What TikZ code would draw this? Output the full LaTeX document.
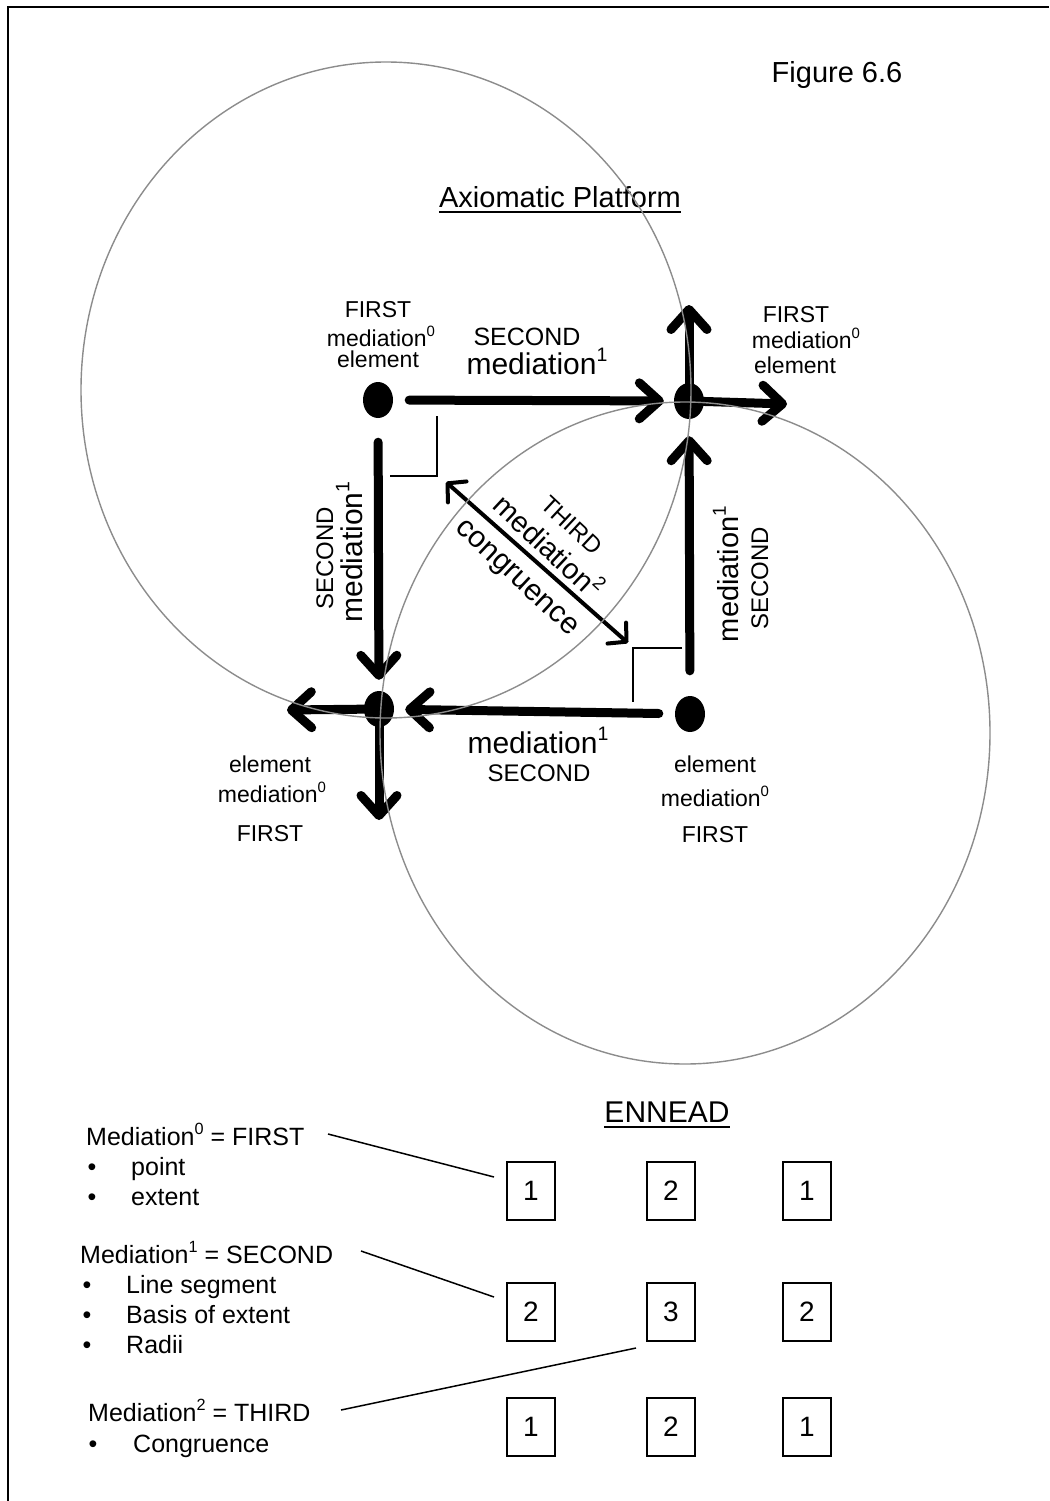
\documentclass[tikz,border=0pt]{standalone}
\usepackage{graphicx}
\usepackage{fontspec}
\setmainfont{Liberation Sans}
\usetikzlibrary{arrows.meta,shapes.geometric}

% small raised index, as in mediation^0
\newcommand\medidx[1]{\raisebox{0.42em}{\scalebox{0.65}{#1}}}

\tikzset{
  frame/.style={line width=2pt},
  orbit/.style={draw=black!45, line width=1.4pt},
  dot/.style={ellipse, fill=black, minimum width=30pt, minimum height=36pt, inner sep=0pt},
  heavy/.style={line width=9pt, line cap=round,
    -{Straight Barb[length=20pt,width=36pt,line cap=round,line join=round]}},
  twoway/.style={line width=4pt, line cap=round,
    {Straight Barb[length=13pt,width=28pt,line cap=round,line join=round]}-{Straight Barb[length=13pt,width=28pt,line cap=round,line join=round]}},
  angle mark/.style={line width=1.3pt},
  leader/.style={line width=1.5pt},
  txt/.style={inner sep=0pt, anchor=base, font=\fontsize{#1}{#1}\selectfont},
  txt/.default=23,
  slant/.style={inner sep=0pt, anchor=base, rotate=-43, font=\fontsize{#1}{#1}\selectfont},
  lefttxt/.style={inner sep=0pt, anchor=base west, font=\fontsize{25}{25}\selectfont},
  bullet/.style={inner sep=0pt, anchor=base, font=\fontsize{25}{25}\selectfont},
  cell/.style={draw, line width=1.5pt, minimum width=48pt, minimum height=58pt,
    inner sep=0pt, font=\fontsize{28}{28}\selectfont}
}

\begin{document}
\begin{tikzpicture}[x=1pt,y=1pt]
\useasboundingbox (0,0) rectangle (1049,-1501);

% page frame
\draw[frame] (8,-1501) -- (8,-7) -- (1049,-7);

% titles
\node[txt=29] (fig) at (837,-83) {Figure 6.6};
\node[txt=29] (axp) at (560,-207) {Axiomatic Platform};
\draw[line width=1.6pt] ([yshift=-5pt]axp.base west) -- ([yshift=-5pt]axp.base east);

% the four elements
\node[dot] (tl) at (378,-400) {};
\node[dot] (tr) at (689,-401) {};
\node[dot] (bl) at (379,-709) {};
\node[dot] (br) at (690,-714) {};

% mediations between the elements
\draw[heavy, shorten <=16pt, shorten >=10pt] (tl) -- (tr);
\draw[heavy, shorten <=24pt, shorten >=11pt] (tl) -- (bl);
\draw[heavy, shorten <=25pt, shorten >=17pt] (br) -- (tr);
\draw[heavy, shorten <=16pt, shorten >=11pt] (br) -- (bl);

% outward arrows
\coordinate (trN) at (689,-305);
\coordinate (trE) at (787,-404);
\coordinate (blW) at (287,-710);
\coordinate (blS) at (379,-820);
\draw[heavy] (tr.center) -- (trN);
\draw[heavy] (tr.center) -- (trE);
\draw[heavy] (bl.center) -- (blW);
\draw[heavy] (bl.center) -- (blS);

% congruence diagonal
\coordinate (dgA) at (446,-482);
\coordinate (dgB) at (628,-643);
\draw[twoway] (dgA) -- (dgB);

% right-angle marks
\draw[angle mark] (437,-416) -- (437,-476) -- (390,-476);
\draw[angle mark] (682,-648) -- (633,-648) -- (633,-702);

% labels: upper left element
\node[txt] (tlA) at (378,-317) {FIRST};
\node[txt] (tlB) at (381,-346) {mediation\medidx{0}};
\node[txt] (tlC) at (378,-367) {element};

% labels: upper right element
\node[txt] (trA) at (796,-322) {FIRST};
\node[txt] (trB) at (806,-348) {mediation\medidx{0}};
\node[txt] (trC) at (795,-373) {element};

% labels: top mediation
\node[txt=25] (tmA) at (527,-345) {SECOND};
\node[txt=30] (tmB) at (537,-374) {mediation\medidx{1}};

% labels: left mediation
\node[txt=24, rotate=90] (lmA) at (333,-558) {SECOND};
\node[txt=30, rotate=90] (lmB) at (362,-552) {mediation\medidx{1}};

% labels: right mediation
\node[txt=29, rotate=90] (rmA) at (738,-574) {mediation\medidx{1}};
\node[txt=24, rotate=90] (rmB) at (768,-578) {SECOND};

% labels: bottom mediation
\node[txt=30] (bmA) at (538,-753) {mediation\medidx{1}};
\node[txt=24] (bmB) at (539,-781) {SECOND};

% labels: lower left element
\node[txt] (blA) at (270,-772) {element};
\node[txt] (blB) at (272,-802) {mediation\medidx{0}};
\node[txt] (blC) at (270,-841) {FIRST};

% labels: lower right element
\node[txt] (brA) at (715,-772) {element};
\node[txt] (brB) at (715,-806) {mediation\medidx{0}};
\node[txt] (brC) at (715,-842) {FIRST};

% labels: diagonal
\node[slant=24] (dgT) at (566,-531) {THIRD};
\node[slant=29] (dgM) at (541,-554) {mediation\medidx{2}};
\node[slant=30] (dgC) at (512,-583) {congruence};

% ennead
\node[txt=30] (enn) at (667,-1122) {ENNEAD};
\draw[line width=1.6pt] ([yshift=-5pt]enn.base west) -- ([yshift=-5pt]enn.base east);

\node[cell] (c11) at (531,-1191) {1};
\node[cell] (c12) at (671,-1191) {2};
\node[cell] (c13) at (807,-1191) {1};
\node[cell] (c21) at (531,-1312) {2};
\node[cell] (c22) at (671,-1312) {3};
\node[cell] (c23) at (807,-1312) {2};
\node[cell] (c31) at (531,-1427) {1};
\node[cell] (c32) at (671,-1427) {2};
\node[cell] (c33) at (807,-1427) {1};

% legend
\node[lefttxt] (m0) at (86,-1145) {Mediation\medidx{0} = FIRST};
\node[bullet] (m0b1) at (92,-1175) {•};
\node[lefttxt] (m0i1) at (131,-1175) {point};
\node[bullet] (m0b2) at (92,-1205) {•};
\node[lefttxt] (m0i2) at (131,-1205) {extent};

\node[lefttxt] (m1) at (80,-1263) {Mediation\medidx{1} = SECOND};
\node[bullet] (m1b1) at (87,-1293) {•};
\node[lefttxt] (m1i1) at (126,-1293) {Line segment};
\node[bullet] (m1b2) at (87,-1323) {•};
\node[lefttxt] (m1i2) at (126,-1323) {Basis of extent};
\node[bullet] (m1b3) at (87,-1353) {•};
\node[lefttxt] (m1i3) at (126,-1353) {Radii};

\node[lefttxt] (m2) at (88,-1421) {Mediation\medidx{2} = THIRD};
\node[bullet] (m2b1) at (93,-1452) {•};
\node[lefttxt] (m2i1) at (133,-1452) {Congruence};

% leaders from the legend to the ennead
\coordinate (l0a) at (328,-1134);
\coordinate (l0b) at (494,-1177);
\coordinate (l1a) at (361,-1251);
\coordinate (l1b) at (494,-1297);
\coordinate (l2a) at (341,-1410);
\coordinate (l2b) at (636,-1348);
\draw[leader] (l0a) -- (l0b);
\draw[leader] (l1a) -- (l1b);
\draw[leader] (l2a) -- (l2b);

% the two generating circles, drawn over everything
\draw[orbit] (386,-390) ellipse [x radius=305, y radius=328];
\draw[orbit] (685,-733) ellipse [x radius=305, y radius=331];
\end{tikzpicture}
\end{document}
